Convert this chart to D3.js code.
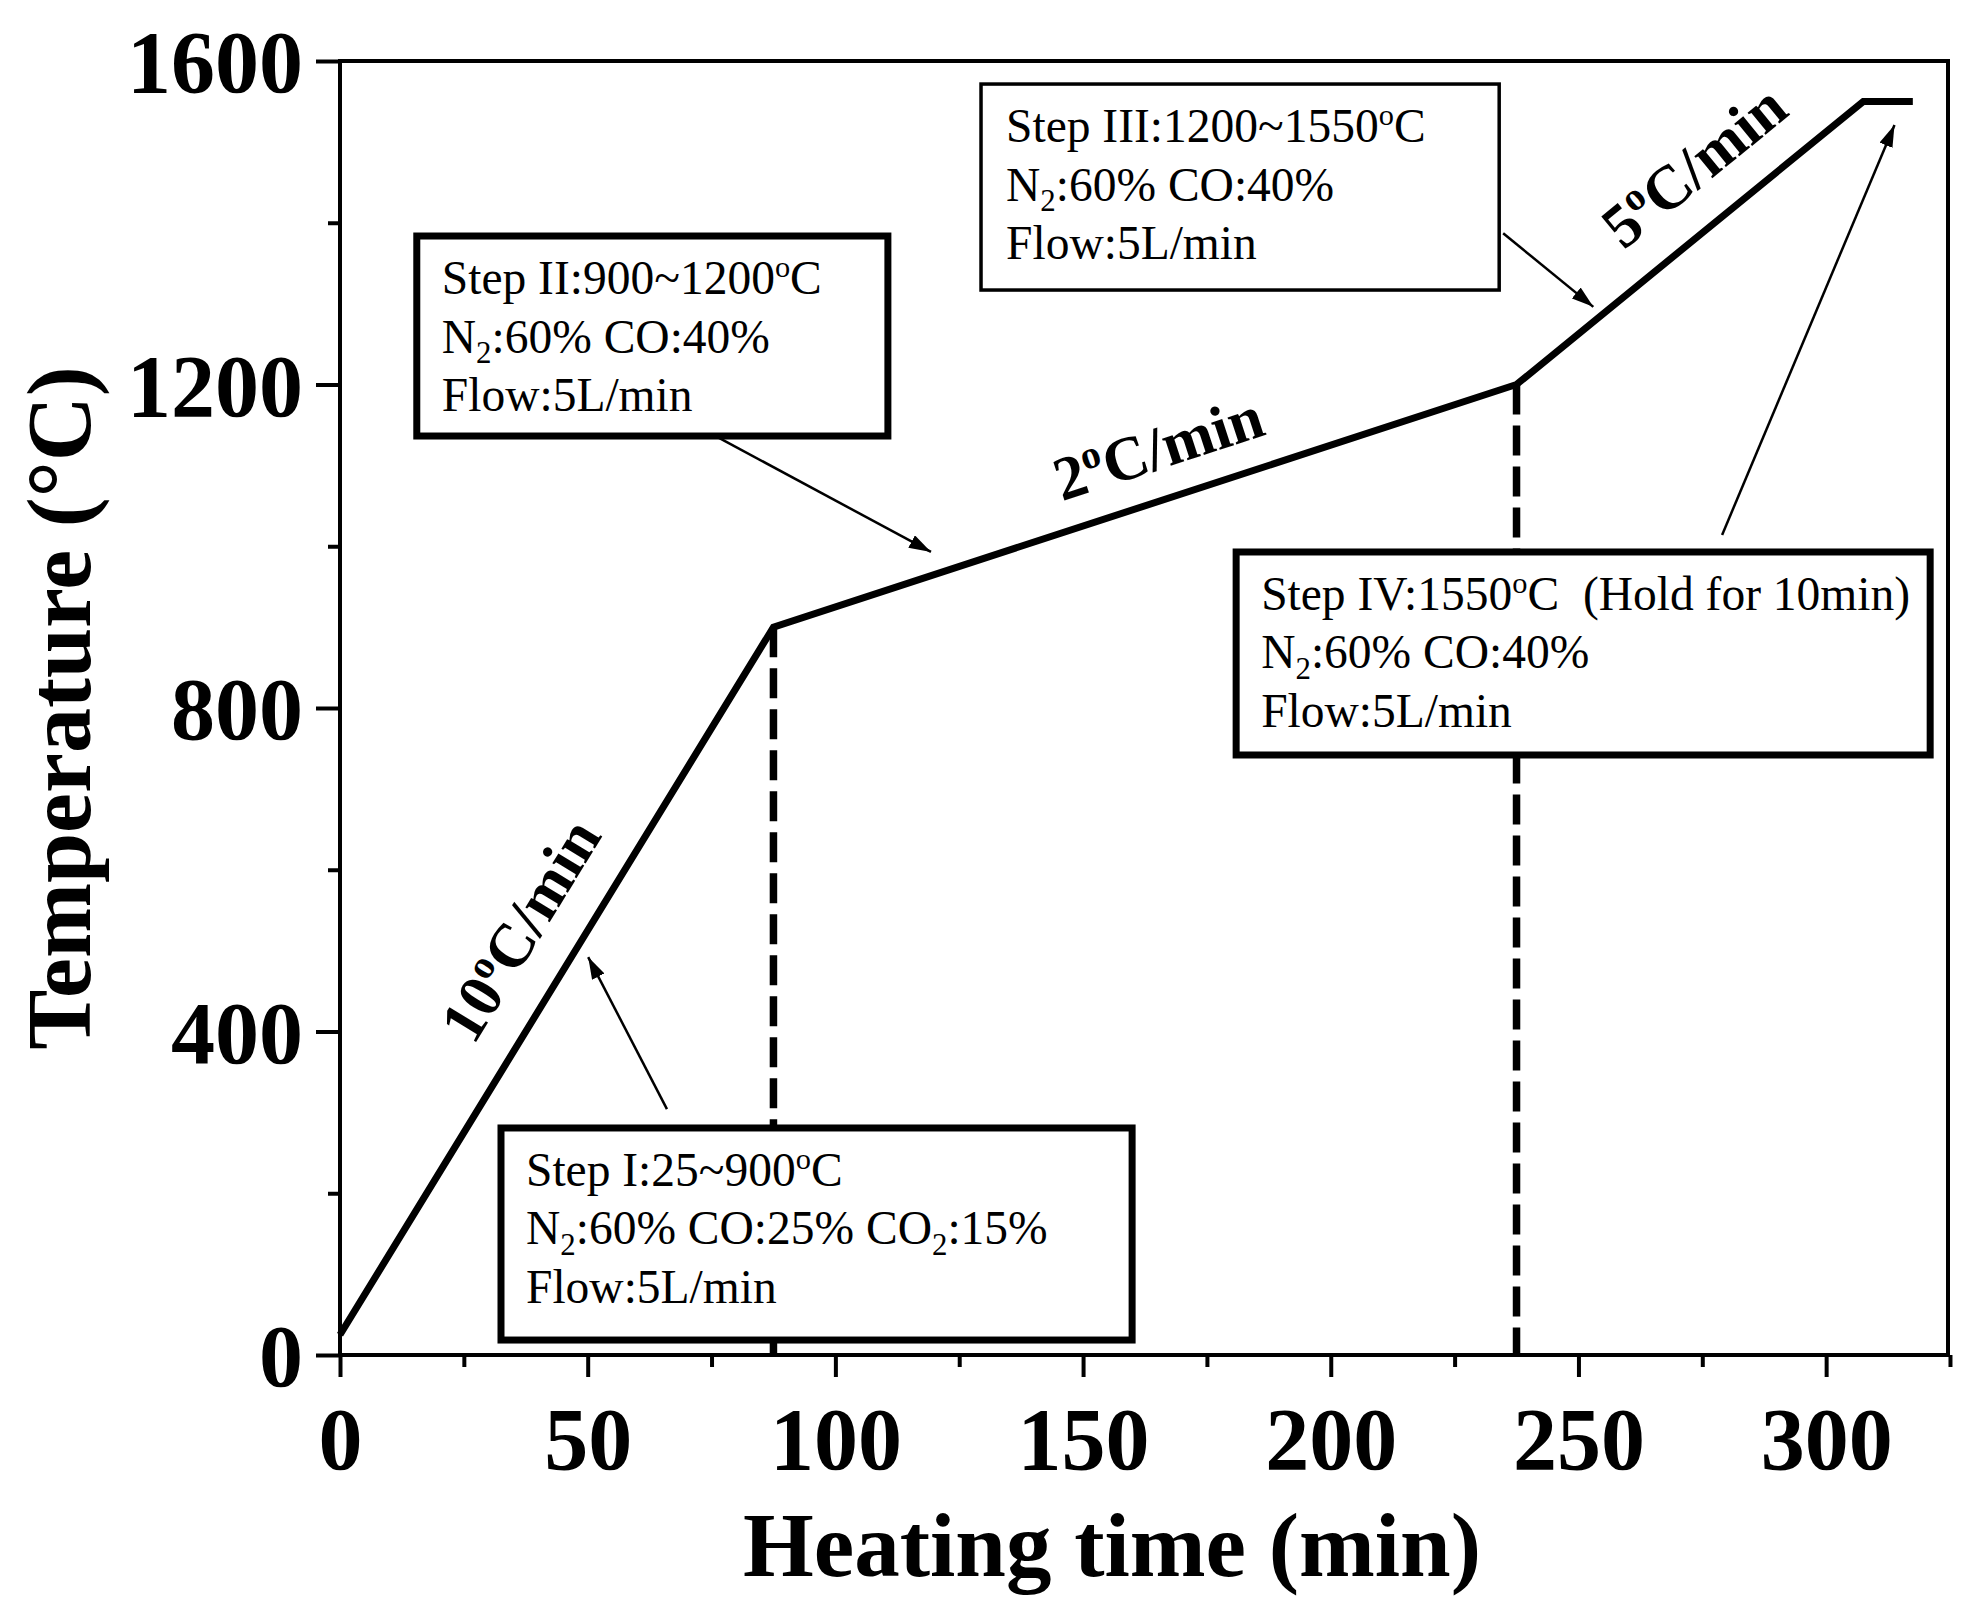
<!DOCTYPE html>
<html>
<head>
<meta charset="utf-8">
<script src="https://cdn.jsdelivr.net/npm/d3@7"></script>
<style>
  body { margin: 0; background: #fff; }
  svg { display: block; }
</style>
</head>
<body>
<script>
// heating program: time (min) vs furnace temperature (°C)
const timeMin = [0, 87.5, 237.5, 307.5, 317.5]
const tempC = [25, 900, 1200, 1550, 1550]

// dashed step boundaries are drawn at these points of the program
const stepIdx = [1, 2]

const xTicks = [0, 50, 100, 150, 200, 250, 300]
const xMinorTicks = [25, 75, 125, 175, 225, 275, 325]
const yTicks = [0, 400, 800, 1200, 1600]
const yMinorTicks = [200, 600, 1000, 1400]

// heating rate labels, ^o = raised o, _2 = subscript 2
const rateText = ["10^oC/min", "2^oC/min", "5^oC/min"]
const rateTime = [40, 166.5, 276]
const rateTemp = [512, 1097, 1450]
const rateSeg = [0, 1, 2]

const noteLines = [
  ["Step I:25~900^oC", "N_2:60% CO:25% CO_2:15%", "Flow:5L/min"],
  ["Step II:900~1200^oC", "N_2:60% CO:40%", "Flow:5L/min"],
  ["Step III:1200~1550^oC", "N_2:60% CO:40%", "Flow:5L/min"],
  ["Step IV:1550^oC  (Hold for 10min)", "N_2:60% CO:40%", "Flow:5L/min"],
]

// annotation layout in data units: box [left, right, top, bottom], arrow [from, to]
const noteLayout = [
  { box: [32.5, 159.9, 280.7, 18.5], from: [66.0, 304], to: [50.1, 492], border: 7 },
  { box: [15.5, 110.6, 1383.6, 1136.3], from: [76.5, 1134], to: [119.3, 993], border: 7 },
  { box: [129.4, 234.0, 1571.5, 1316.8], from: [234.8, 1387], to: [253.0, 1296], border: 3.5 },
  { box: [180.9, 321.0, 992.9, 741.9], from: [279.0, 1014], to: [313.8, 1521], border: 7 },
]

const W = 1980, H = 1618
const plot = { left: 340, right: 1948, top: 61, bottom: 1355 }
const serif = "'Times New Roman', 'Liberation Serif', serif"

const svg = d3.select("body").append("svg")
  .attr("width", W)
  .attr("height", H)
  .attr("viewBox", `0 0 ${W} ${H}`)

svg.append("rect").attr("width", W).attr("height", H).attr("fill", "#fff")

const x = d3.scaleLinear().domain([0, 324.6]).range([plot.left, plot.right])
const y = d3.scaleLinear().domain([0, 1600]).range([plot.bottom, plot.top])

// writes a string with ^o / _2 markers as tspans
const richText = (t, str, fs) => {
  const parts = str.split(/(\^o|_2)/)
  let shift = 0
  parts.forEach(p => {
    if (!p) return
    let target = 0, size = fs, txt = p
    if (p === "^o") { target = -fs * 0.36; size = fs * 0.64; txt = "o" }
    if (p === "_2") { target = fs * 0.22; size = fs * 0.65; txt = "2" }
    t.append("tspan")
      .attr("font-size", size)
      .attr("dy", target - shift)
      .text(txt)
    shift = target
  })
}

const defs = svg.append("defs")
defs.append("marker")
  .attr("id", "arrowhead")
  .attr("viewBox", "0 0 22 14")
  .attr("refX", 22)
  .attr("refY", 7)
  .attr("markerWidth", 22)
  .attr("markerHeight", 14)
  .attr("markerUnits", "userSpaceOnUse")
  .attr("orient", "auto")
  .append("path")
  .attr("d", "M0,0 L22,7 L0,14 z")
  .attr("fill", "#000")

// dashed step boundaries
stepIdx.forEach(i => {
  svg.append("line")
    .attr("x1", x(timeMin[i])).attr("x2", x(timeMin[i]))
    .attr("y1", y(tempC[i])).attr("y2", y(0))
    .attr("stroke", "#000")
    .attr("stroke-width", 7.5)
    .attr("stroke-dasharray", "30,11")
})

// heating curve
const pts = timeMin.map((t, i) => [t, tempC[i]])
svg.append("path")
  .datum(pts)
  .attr("fill", "none")
  .attr("stroke", "#000")
  .attr("stroke-width", 7)
  .attr("stroke-linejoin", "miter")
  .attr("d", d3.line()
    .x(d => x(d[0]))
    .y(d => y(d[1]))
  )

// rate labels, rotated to the slope of their segment
rateText.forEach((s, i) => {
  const k = rateSeg[i]
  const ang = Math.atan2(y(tempC[k + 1]) - y(tempC[k]), x(timeMin[k + 1]) - x(timeMin[k])) * 180 / Math.PI
  const t = svg.append("text")
    .attr("transform", `translate(${x(rateTime[i])},${y(rateTemp[i])}) rotate(${ang})`)
    .attr("text-anchor", "middle")
    .attr("dy", "0.35em")
    .attr("font-family", serif)
    .attr("font-weight", "bold")
    .attr("font-size", 62)
  richText(t, s, 62)
})

// annotation boxes and arrows
noteLayout.forEach((n, i) => {
  const [l, r, tp, b] = n.box
  svg.append("rect")
    .attr("x", x(l)).attr("y", y(tp))
    .attr("width", x(r) - x(l)).attr("height", y(b) - y(tp))
    .attr("fill", "#fff")
    .attr("stroke", "#000")
    .attr("stroke-width", n.border)

  noteLines[i].forEach((s, j) => {
    const t = svg.append("text")
      .attr("x", x(l) + 25)
      .attr("y", y(tp) + 58 + j * 58.5)
      .attr("font-family", serif)
      .attr("font-size", 47.5)
      .attr("xml:space", "preserve")
      .style("white-space", "pre")
    richText(t, s, 47.5)
  })

  svg.append("line")
    .attr("x1", x(n.from[0])).attr("y1", y(n.from[1]))
    .attr("x2", x(n.to[0])).attr("y2", y(n.to[1]))
    .attr("stroke", "#000")
    .attr("stroke-width", 2.5)
    .attr("marker-end", "url(#arrowhead)")
})

// axes
const styleAxis = g => {
  g.select(".domain").remove()
  g.selectAll(".tick line").attr("stroke", "#000").attr("stroke-width", 4)
  g.selectAll("text")
    .attr("fill", "#000")
    .attr("font-family", serif)
    .attr("font-weight", "bold")
    .attr("font-size", 88)
}

svg.append("g")
  .attr("transform", `translate(0,${plot.bottom})`)
  .call(d3.axisBottom(x).tickValues(xTicks).tickSize(22).tickSizeOuter(0).tickFormat(d => d))
  .call(styleAxis)
  .call(g => g.selectAll("text").attr("y", 114).attr("dy", 0))

svg.append("g")
  .attr("transform", `translate(0,${plot.bottom})`)
  .call(d3.axisBottom(x).tickValues(xMinorTicks).tickSize(12).tickSizeOuter(0).tickFormat(""))
  .call(styleAxis)

svg.append("g")
  .attr("transform", `translate(${plot.left},0)`)
  .call(d3.axisLeft(y).tickValues(yTicks).tickSize(24).tickPadding(13).tickSizeOuter(0).tickFormat(d => d))
  .call(styleAxis)
  .call(g => g.selectAll("text").attr("dy", "0.35em"))

svg.append("g")
  .attr("transform", `translate(${plot.left},0)`)
  .call(d3.axisLeft(y).tickValues(yMinorTicks).tickSize(12).tickSizeOuter(0).tickFormat(""))
  .call(styleAxis)

// plot frame
svg.append("rect")
  .attr("x", plot.left).attr("y", plot.top)
  .attr("width", plot.right - plot.left).attr("height", plot.bottom - plot.top)
  .attr("fill", "none")
  .attr("stroke", "#000")
  .attr("stroke-width", 4)

// axis titles
svg.append("text")
  .attr("transform", `translate(1112,1576)`)
  .attr("text-anchor", "middle")
  .attr("font-family", serif)
  .attr("font-weight", "bold")
  .attr("font-size", 91)
  .text("Heating time (min)")

svg.append("text")
  .attr("transform", `translate(90,${(plot.top + plot.bottom) / 2}) rotate(-90)`)
  .attr("text-anchor", "middle")
  .attr("font-family", serif)
  .attr("font-weight", "bold")
  .attr("font-size", 90)
  .text("Temperature (°C)")
</script>
</body>
</html>
